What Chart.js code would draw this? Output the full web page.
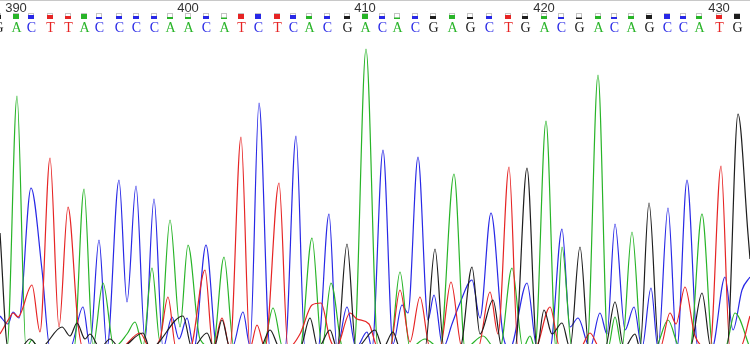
<!DOCTYPE html>
<html><head><meta charset="utf-8">
<script src="https://cdn.jsdelivr.net/npm/chart.js@4/dist/chart.umd.min.js"></script>
<style>html,body{margin:0;padding:0;background:#fff;overflow:hidden}canvas{display:block}</style>
</head><body>
<canvas id="c" width="750" height="344"></canvas>
<script>
// Base calls (position 389..431)
const baseNumbers = [389,390,391,392,393,394,395,396,397,398,399,400,401,402,403,404,405,406,407,408,409,410,411,412,413,414,415,416,417,418,419,420,421,422,423,424,425,426,427,428,429,430,431];
const baseScan = [-2,16,31,50,68,84,99,119,136,154,170,188,206,224,241,258,277,293,309,327,347,365,382,397,415,433,452,470,489,508,525,544,561,579,598,614,631,649,667,683,699,719,737];
const baseLetters = "GACTTACCCCAACATCTCACGACACGAGCTGACGACAGCCATG".split("");
const baseQuality = [0.8,1.0,0.8,0.7,0.6,1.0,0.3,0.6,0.6,0.6,0.4,0.4,0.5,0.2,0.9,1.0,0.9,0.7,0.5,0.5,0.5,1.0,0.6,0.2,0.6,0.5,0.8,0.3,0.5,0.7,0.6,0.5,0.3,0.2,0.5,0.3,0.6,0.7,0.9,0.5,0.5,0.8,0.9];
const tickNumbers = [390,400,410,420,430];

// Trace A (green)
const traceA_x = [0,7,17,26,32,38,74,84,93,103,114,127,135,143,152,160,170,180,188,200,213,224,234,263,273,283,300,312,322,331,343,354,366,378,390,400,410,425,440,454,465,483,495,500,512,523,530,535,546,556,562,572,587,598,608,615,622,632,642,655,668,680,690,702,713,725,735,750];
const traceA_y = [-4,-4,248,-4,4,-4,-4,155,-2,61,-3,10,22,-2,76,2,124,17,99,5,-3,87,-4,-4,36,-4,-4,106,-4,61,-4,-4,295,-4,-4,72,-4,5,-4,170,-4,8,-4,-4,76,-4,8,-4,223,-4,97,-4,-4,269,-4,27,-4,112,-4,-4,24,-4,-4,130,-4,-4,31,-4];
// Trace C (blue)
const traceC_x = [0,8,13,19,31,42,50,70,83,90,99,107,119,127,136,145,154,163,172,179,187,194,206,217,232,243,250,259,270,285,296,305,318,329,337,347,356,367,372,383,393,402,408,418,428,434,443,452,460,472,480,491,503,510,527,537,550,562,570,578,590,600,607,615,625,634,642,651,658,668,677,687,698,712,725,733,742,750];
const traceC_y = [28,20,32,26,156,74,-4,-4,37,-2,104,-4,164,42,158,4,145,-4,27,5,26,-4,99,-4,-4,32,-2,241,-4,-4,208,-4,-4,130,-4,37,-4,12,-4,194,0,39,31,187,24,49,-4,20,41,64,26,131,9,-4,61,-4,-4,115,17,26,-4,31,10,120,14,37,-4,56,-4,136,-4,164,-4,-4,67,14,54,67];
// Trace T (red)
const traceT_x = [0,10,13,18,32,40,50,59,68,78,83,100,120,140,150,160,168,176,190,205,213,222,230,241,250,257,265,279,288,300,312,321,330,336,350,357,369,378,390,400,410,420,430,440,451,462,478,490,498,509,518,535,550,560,580,590,600,660,670,676,685,695,710,721,730,740,750];
const traceT_y = [10,27,31,27,59,12,186,17,137,20,-4,-4,-4,11,-4,5,47,-4,-4,74,-4,26,-4,207,-4,19,-4,161,-4,10,39,41,5,-4,31,25,20,-4,-4,54,2,47,-4,-4,62,-4,-4,52,10,177,-4,-4,37,-4,-4,11,-4,-4,31,20,57,8,-4,178,-4,-4,28];
// Trace G (black)
const traceG_x = [0,8,20,30,40,62,70,77,85,90,100,110,120,143,150,183,192,207,214,222,230,260,270,280,300,310,318,330,337,347,356,375,383,393,400,425,435,444,460,472,480,493,502,515,527,537,544,552,562,570,580,589,605,615,624,635,640,649,659,690,702,711,727,738,748,750];
const traceG_y = [111,-4,-4,5,-4,17,8,21,5,10,-4,5,-4,11,-4,28,-4,11,-4,24,-4,-4,14,-4,-4,26,-4,14,-4,100,-4,14,-4,12,-4,-4,95,-4,-4,77,10,44,-4,-4,176,-4,34,10,21,-4,97,-4,-4,42,-4,10,-4,141,-4,-4,51,-4,-4,230,110,85];

const pts = (xs, ys) => xs.map((x, i) => ({x, y: ys[i]}));
const colors = {A:'#28b428', C:'#2828e6', G:'#1e1e1e', T:'#e62424'};

const header = {
  id: 'header',
  afterDraw(chart) {
    const ctx = chart.ctx, xs = chart.scales.x;
    ctx.save();
    ctx.strokeStyle = '#c8c8c8'; ctx.lineWidth = 1;
    ctx.beginPath(); ctx.moveTo(0, 0.5); ctx.lineTo(750, 0.5); ctx.stroke();
    ctx.fillStyle = '#333';
    ctx.font = '13px "Liberation Sans", Arial, sans-serif';
    ctx.textAlign = 'center'; ctx.textBaseline = 'alphabetic';
    tickNumbers.forEach(n => {
      const i = baseNumbers.indexOf(n);
      ctx.fillText(String(n), xs.getPixelForValue(baseScan[i]), 12);
    });
    ctx.font = '14px "Liberation Serif", "Times New Roman", serif';
    baseLetters.forEach((b, i) => {
      const px = Math.round(xs.getPixelForValue(baseScan[i]));
      const q = baseQuality[i];
      ctx.strokeStyle = '#c4c4c4';
      ctx.strokeRect(px - 3 + 0.5, 13.5, 5, 5);
      ctx.fillStyle = colors[b];
      const h = Math.max(1.5, Math.round(q * 5));
      ctx.fillRect(px - 3, 19 - h, 6, h);
      ctx.fillText(b, px + 0.5, 32);
    });
    ctx.restore();
  }
};

const ds = (label, xs, ys, col) => ({label, data: pts(xs, ys), borderColor: col, borderWidth: 1.2,
  pointRadius: 0, cubicInterpolationMode: 'monotone', fill: false});

new Chart(document.getElementById('c'), {
  type: 'line',
  data: {datasets: [
    ds('G', traceG_x, traceG_y, colors.G),
    ds('T', traceT_x, traceT_y, colors.T),
    ds('A', traceA_x, traceA_y, colors.A),
    ds('C', traceC_x, traceC_y, colors.C)
  ]},
  options: {
    responsive: false, animation: false, devicePixelRatio: 1,
    layout: {padding: {top: 40, left: 0, right: 0, bottom: 0}},
    plugins: {legend: {display: false}, tooltip: {enabled: false}},
    scales: {
      x: {type: 'linear', min: 0, max: 750, display: false},
      y: {min: 0, max: 304, display: false}
    }
  },
  plugins: [header]
});
</script>
</body></html>
